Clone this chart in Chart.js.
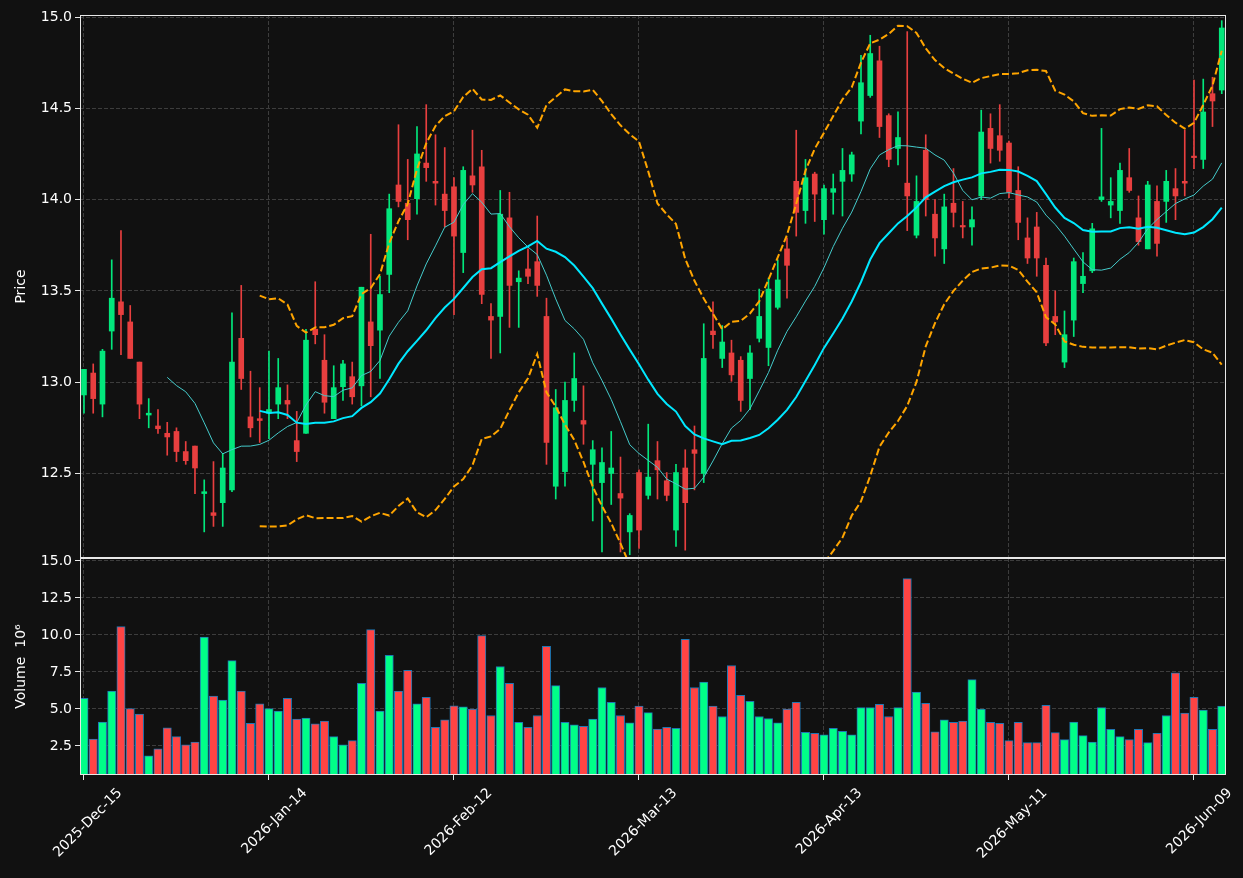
<!DOCTYPE html>
<html>
<head>
<meta charset="utf-8">
<script src="https://cdn.jsdelivr.net/npm/chart.js@4.4.1/dist/chart.umd.min.js"></script>
<style>
  html, body { margin: 0; padding: 0; background: #111111; }
  #contenedor { position: relative; width: 1243px; height: 878px; background: #111111; }
  #graficoPrecio { position: absolute; left: 0; top: 0; }
  #graficoVolumen { position: absolute; left: 0; top: 550px; }
</style>
</head>
<body>
<div id="contenedor">
  <canvas id="graficoPrecio" width="1243" height="560"></canvas>
  <canvas id="graficoVolumen" width="1243" height="328"></canvas>
</div>
<script>
// Etiquetas del eje X (una cada 20 sesiones)
const etiquetasX = ['2025-Dec-15', '2026-Jan-14', '2026-Feb-12', '2026-Mar-13', '2026-Apr-13', '2026-May-11', '2026-Jun-09'];
const posicionesX = [0, 20, 40, 60, 80, 100, 120];

// Velas diarias
const apertura = [
  12.93, 13.05, 12.88, 13.28, 13.44, 13.33, 13.11, 12.82, 12.76, 12.72,
  12.73, 12.62, 12.65, 12.39, 12.285, 12.34, 12.41, 13.24, 12.81, 12.80,
  12.83, 12.88, 12.90, 12.68, 12.72, 13.29, 13.12, 12.80, 12.975, 13.03,
  12.98, 13.33, 13.285, 13.59, 14.08, 13.98, 14.005, 14.20, 14.10, 14.03,
  14.07, 13.71, 14.13, 14.18, 13.36, 13.36, 13.90, 13.55, 13.62, 13.66,
  13.36, 12.43, 12.51, 12.90, 12.79, 12.55, 12.45, 12.50, 12.39, 12.18,
  12.505, 12.38, 12.57, 12.46, 12.19, 12.53, 12.63, 12.50, 13.28, 13.13,
  13.16, 13.12, 13.02, 13.24, 13.19, 13.41, 13.73, 14.10, 13.94, 14.14,
  13.89, 14.04, 14.10, 14.14, 14.43, 14.57, 14.76, 14.46, 14.28, 14.09,
  13.805, 14.27, 13.92, 13.73, 13.98, 13.855, 13.85, 14.02, 14.39, 14.35,
  14.31, 14.05, 13.79, 13.85, 13.64, 13.36, 13.11, 13.34, 13.54, 13.61,
  14.00, 13.97, 13.94, 14.12, 13.90, 13.73, 13.99, 13.99, 14.06, 14.10,
  14.235, 14.22, 14.58, 14.60
];
const maximo = [
  13.07, 13.10, 13.18, 13.67, 13.83, 13.42, 13.11, 12.91, 12.85, 12.78,
  12.75, 12.675, 12.65, 12.465, 12.565, 12.61, 13.38, 13.53, 13.06, 12.97,
  13.17, 13.13, 12.985, 12.84, 13.29, 13.55, 13.26, 13.09, 13.12, 13.11,
  13.52, 13.81, 13.58, 14.03, 14.41, 14.22, 14.40, 14.52, 14.355, 14.285,
  14.12, 14.18, 14.38, 14.27, 13.43, 14.05, 14.04, 13.61, 13.73, 13.91,
  13.46, 12.96, 13.00, 13.16, 12.98, 12.68, 12.64, 12.73, 12.59, 12.28,
  12.52, 12.77, 12.675, 12.505, 12.55, 12.63, 12.76, 13.32, 13.44, 13.31,
  13.23, 13.14, 13.20, 13.51, 13.57, 13.67, 13.79, 14.38, 14.22, 14.15,
  14.08, 14.14, 14.28, 14.26, 14.79, 14.90, 14.84, 14.47, 14.48, 14.92,
  14.13, 14.355, 14.00, 14.03, 14.17, 13.99, 13.96, 14.49, 14.47, 14.52,
  14.32, 14.18, 13.90, 13.93, 13.68, 13.50, 13.39, 13.68, 13.71, 13.87,
  14.39, 14.12, 14.20, 14.28, 14.02, 14.10, 14.075, 14.16, 14.17, 14.38,
  14.655, 14.66, 14.67, 14.98
];
const minimo = [
  12.83, 12.83, 12.81, 13.18, 13.15, 13.13, 12.80, 12.75, 12.72, 12.60,
  12.565, 12.55, 12.39, 12.18, 12.21, 12.21, 12.40, 12.96, 12.70, 12.67,
  12.69, 12.80, 12.80, 12.565, 12.72, 13.21, 12.83, 12.80, 12.90, 12.88,
  12.87, 12.92, 13.02, 13.49, 13.96, 13.78, 13.92, 14.10, 13.97, 13.85,
  13.37, 13.60, 14.04, 13.43, 13.13, 13.16, 13.30, 13.30, 13.54, 13.47,
  12.55, 12.36, 12.43, 12.84, 12.66, 12.24, 12.07, 12.33, 12.07, 12.055,
  12.09, 12.36, 12.36, 12.35, 12.10, 12.08, 12.41, 12.45, 13.185, 13.08,
  13.005, 12.84, 12.85, 13.22, 13.09, 13.40, 13.46, 13.80, 13.87, 13.88,
  13.81, 13.92, 13.91, 14.10, 14.36, 14.56, 14.34, 14.18, 14.19, 13.83,
  13.79, 13.91, 13.69, 13.65, 13.85, 13.79, 13.75, 14.00, 14.20, 14.21,
  14.01, 13.78, 13.65, 13.58, 13.20, 13.26, 13.08, 13.25, 13.49, 13.60,
  13.99, 13.90, 13.87, 14.04, 13.75, 13.73, 13.69, 13.875, 13.89, 14.02,
  14.17, 14.17, 14.40, 14.58
];
const cierre = [
  13.07, 12.91, 13.17, 13.46, 13.37, 13.13, 12.88, 12.83, 12.745, 12.70,
  12.62, 12.57, 12.53, 12.40, 12.27, 12.53, 13.11, 13.02, 12.75, 12.79,
  12.85, 12.97, 12.88, 12.62, 13.23, 13.26, 12.89, 12.97, 13.10, 12.92,
  13.52, 13.20, 13.48, 13.95, 13.99, 13.89, 14.25, 14.175, 14.09, 13.94,
  13.80, 14.16, 14.08, 13.48, 13.34, 13.92, 13.53, 13.57, 13.58, 13.53,
  12.67, 12.86, 12.90, 13.02, 12.77, 12.63, 12.56, 12.53, 12.365, 12.27,
  12.19, 12.48, 12.52, 12.38, 12.505, 12.34, 12.61, 13.13, 13.26, 13.22,
  13.04, 12.90, 13.16, 13.36, 13.51, 13.56, 13.64, 13.93, 14.12, 14.03,
  14.06, 14.06, 14.16, 14.245, 14.64, 14.80, 14.40, 14.22, 14.34, 14.02,
  13.99, 14.00, 13.79, 13.96, 13.93, 13.85, 13.89, 14.37, 14.28, 14.27,
  14.04, 13.875, 13.68, 13.68, 13.215, 13.33, 13.26, 13.66, 13.58, 13.84,
  14.015, 13.99, 14.16, 14.05, 13.77, 14.08, 13.76, 14.10, 14.02, 14.09,
  14.23, 14.48, 14.54, 14.94
];
// Volumen en millones
const volumen = [
  5.72, 2.96, 4.12, 6.21, 10.56, 5.02, 4.66, 1.84, 2.30, 3.73,
  3.13, 2.57, 2.77, 9.86, 5.88, 5.60, 8.27, 6.21, 4.03, 5.35,
  5.02, 4.85, 5.72, 4.32, 4.39, 3.99, 4.19, 3.13, 2.57, 2.86,
  6.74, 10.36, 4.85, 8.63, 6.21, 7.61, 5.35, 5.78, 3.76, 4.26,
  5.22, 5.15, 4.99, 9.96, 4.56, 7.87, 6.74, 4.09, 3.76, 4.56,
  9.23, 6.58, 4.09, 3.93, 3.83, 4.32, 6.45, 5.45, 4.56, 4.06,
  5.19, 4.75, 3.65, 3.76, 3.69, 9.70, 6.45, 6.81, 5.19, 4.49,
  7.94, 5.92, 5.52, 4.49, 4.36, 4.06, 4.99, 5.45, 3.43, 3.36,
  3.26, 3.69, 3.49, 3.26, 5.09, 5.09, 5.32, 4.49, 5.09, 13.81,
  6.15, 5.38, 3.46, 4.26, 4.09, 4.19, 6.98, 4.99, 4.09, 4.03,
  2.86, 4.09, 2.73, 2.73, 5.25, 3.40, 2.93, 4.12, 3.20, 2.77,
  5.09, 3.63, 3.13, 2.93, 3.63, 2.73, 3.36, 4.56, 7.44, 4.72,
  5.78, 4.92, 3.63, 5.19
];

Chart.defaults.font.family = 'DejaVu Sans';
Chart.defaults.font.size = 14;
Chart.defaults.color = '#ffffff';

const colorGrid = '#3d3d3d';
const fuente = { family: 'DejaVu Sans', size: 14 };

// Medias moviles y bandas de Bollinger calculadas desde el cierre
function mediaMovil(valores, n) {
  return valores.map((v, i) => {
    if (i < n - 1) return null;
    const ventana = valores.slice(i - n + 1, i + 1);
    return ventana.reduce((a, b) => a + b, 0) / n;
  });
}

function desviacion(valores, n) {
  return valores.map((v, i) => {
    if (i < n - 1) return null;
    const ventana = valores.slice(i - n + 1, i + 1);
    const m = ventana.reduce((a, b) => a + b, 0) / n;
    const s = ventana.reduce((a, b) => a + (b - m) * (b - m), 0) / (n - 1);
    return Math.sqrt(s);
  });
}

const ma10 = mediaMovil(cierre, 10);
const ma20 = mediaMovil(cierre, 20);
const std20 = desviacion(cierre, 20);
const bandaSup = ma20.map((m, i) => m === null ? null : m + 2 * std20[i]);
const bandaInf = ma20.map((m, i) => m === null ? null : m - 2 * std20[i]);

const aPuntos = serie => serie.map((v, i) => ({ x: i, y: v })).filter(p => p.y !== null);

const sube = cierre.map((c, i) => c >= apertura[i]);
const colorVela = sube.map(s => s ? '#02e77c' : '#e83f3f');
const colorVolumen = sube.map(s => s ? '#00ff88' : '#ff4444');

// Marco blanco alrededor del area de dibujo
const marco = {
  id: 'marco',
  afterDatasetsDraw(chart) {
    const { ctx, chartArea: a } = chart;
    ctx.save();
    ctx.strokeStyle = '#e8e8e8';
    ctx.lineWidth = 1;
    ctx.strokeRect(a.left + 0.5, a.top + 0.5, a.right - a.left - 1, a.bottom - a.top - 1);
    ctx.restore();
  }
};

function ejeX(conEtiquetas) {
  return {
    type: 'linear',
    min: -0.43,
    max: 123.46,
    offset: false,
    grid: { color: colorGrid, offset: false, drawTicks: conEtiquetas, tickLength: 5, tickColor: '#e8e8e8' },
    border: { display: false, dash: [4, 2] },
    ticks: {
      display: conEtiquetas,
      stepSize: 20,
      includeBounds: false,
      autoSkip: false,
      maxRotation: 45,
      minRotation: 45,
      padding: 5,
      labelOffset: 36,
      color: '#ffffff',
      font: fuente,
      callback: v => {
        const k = posicionesX.indexOf(v);
        return k >= 0 ? etiquetasX[k] : '';
      }
    },
    afterFit: s => {
      s.height = conEtiquetas ? 103 : 0;
      s.paddingLeft = 0;
      s.paddingRight = 0;
    }
  };
}

function ejeY(min, max, paso, titulo) {
  return {
    type: 'linear',
    position: 'left',
    min: min,
    max: max,
    grid: { color: colorGrid, tickLength: 5, tickColor: '#e8e8e8' },
    border: { display: false, dash: [4, 2] },
    ticks: {
      stepSize: paso,
      includeBounds: false,
      padding: 3,
      color: '#ffffff',
      font: fuente,
      callback: v => v.toFixed(1)
    },
    title: { display: true, text: titulo, color: '#ffffff', font: fuente, padding: { top: 13, bottom: 0 } },
    afterFit: s => {
      s.width = 80;
      s.paddingTop = 0;
      s.paddingBottom = 0;
    }
  };
}

const opcionesBase = {
  responsive: false,
  animation: false,
  events: [],
  plugins: { legend: { display: false }, tooltip: { enabled: false } }
};

new Chart(document.getElementById('graficoPrecio'), {
  type: 'bar',
  data: {
    datasets: [
      { type: 'line', data: aPuntos(bandaSup), borderColor: '#ffa500', borderWidth: 2, borderDash: [7, 3], pointRadius: 0, order: 0 },
      { type: 'line', data: aPuntos(bandaInf), borderColor: '#ffa500', borderWidth: 2, borderDash: [7, 3], pointRadius: 0, order: 0 },
      { type: 'line', data: aPuntos(ma20), borderColor: '#00e8ff', borderWidth: 2, pointRadius: 0, order: 0 },
      { type: 'line', data: aPuntos(ma10), borderColor: '#45cccc', borderWidth: 1, pointRadius: 0, order: 0 },
      {
        data: apertura.map((o, i) => ({ x: i, y: [o, cierre[i]] })),
        backgroundColor: colorVela, barThickness: 5, minBarLength: 1.5, grouped: false, order: 1
      },
      {
        data: minimo.map((l, i) => ({ x: i, y: [l, maximo[i]] })),
        backgroundColor: colorVela, barThickness: 1, grouped: false, order: 2
      }
    ]
  },
  options: {
    ...opcionesBase,
    layout: { padding: { left: 0, right: 17, top: 15, bottom: 2 } },
    scales: {
      x: ejeX(false),
      y: ejeY(12.037, 15.011, 0.5, 'Price')
    }
  },
  plugins: [marco]
});

new Chart(document.getElementById('graficoVolumen'), {
  type: 'bar',
  data: {
    datasets: [{
      data: volumen.map((v, i) => ({ x: i, y: v })),
      backgroundColor: colorVolumen,
      borderColor: '#1f77b4',
      borderWidth: 1,
      borderSkipped: false,
      barThickness: 8.3,
      grouped: false
    }]
  },
  options: {
    ...opcionesBase,
    layout: { padding: { left: 0, right: 17, top: 8, bottom: 0 } },
    scales: {
      x: ejeX(true),
      y: ejeY(0.54, 15.2, 2.5, 'Volume  10\u2076')
    }
  },
  plugins: [marco]
});
</script>
</body>
</html>
